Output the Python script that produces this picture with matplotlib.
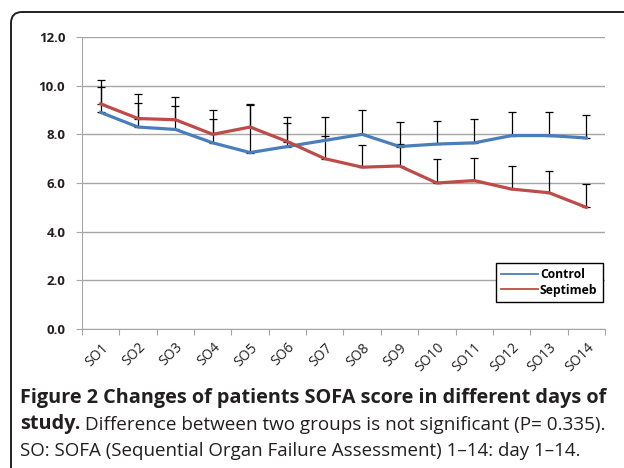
import numpy as np
import matplotlib
matplotlib.use("Agg")
import matplotlib.pyplot as plt
from matplotlib.patches import FancyBboxPatch

# SOFA score per study day
days = ["SO1", "SO2", "SO3", "SO4", "SO5", "SO6", "SO7",
        "SO8", "SO9", "SO10", "SO11", "SO12", "SO13", "SO14"]
control = [8.9, 8.3, 8.2, 7.65, 7.25, 7.5, 7.75, 8.0, 7.5, 7.6, 7.65, 7.95, 7.95, 7.85]
control_sd = [1.05, 1.0, 0.95, 1.0, 2.0, 1.2, 0.95, 1.0, 1.0, 0.95, 1.0, 0.95, 0.95, 0.95]
septimeb = [9.25, 8.65, 8.6, 8.0, 8.3, 7.7, 7.0, 6.65, 6.7, 6.0, 6.1, 5.75, 5.6, 5.0]
septimeb_sd = [1.0, 1.02, 0.95, 1.0, 0.9, 0.75, 0.93, 0.93, 0.92, 0.97, 0.93, 0.93, 0.9, 0.97]

blue = "#4a7ebb"
red = "#be4b48"
grid = "#a6a6a6"
txt = "#231f20"

plt.rcParams["font.family"] = ["Open Sans", "DejaVu Sans"]

fig = plt.figure(figsize=(6.24, 4.68), dpi=100)

# rounded frame around the figure (pixel coordinates)
bg = fig.add_axes([0, 0, 1, 1])
bg.set_xlim(0, 624)
bg.set_ylim(468, 0)
bg.axis("off")
frame = FancyBboxPatch((11, 12), 700, 520, boxstyle="round,pad=0,rounding_size=11",
                       fc="none", ec="#222222", lw=1.4, clip_on=False)
bg.add_patch(frame)

ax = fig.add_axes([82 / 624, 1 - 329 / 468, 523 / 624, 292 / 468])
x = np.arange(1, len(days) + 1)

ax.errorbar(x, control, yerr=[np.zeros(len(x)), control_sd], fmt="none",
            ecolor="black", elinewidth=0.9, capsize=3, capthick=0.9, zorder=2)
ax.errorbar(x, septimeb, yerr=[np.zeros(len(x)), septimeb_sd], fmt="none",
            ecolor="black", elinewidth=0.9, capsize=3, capthick=0.9, zorder=2)
ax.plot(x, control, color=blue, lw=2.3, label="Control", zorder=3)
ax.plot(x, septimeb, color=red, lw=2.3, label="Septimeb", zorder=3)

ax.set_xlim(0.5, len(days) + 0.5)
ax.set_ylim(0, 12)
ax.set_yticks(np.arange(0, 12.1, 2))
ax.set_yticklabels([f"{v:.1f}" for v in np.arange(0, 12.1, 2)],
                   fontweight="bold", fontsize=9.5, color=txt)
ax.yaxis.grid(True, color=grid, lw=1)
ax.set_axisbelow(True)

ax.set_xticks(np.arange(0.5, len(days) + 1, 1))
ax.set_xticklabels([])
ax.set_xticks(x, minor=True)
ax.set_xticklabels(days, minor=True, rotation=45, ha="right",
                   rotation_mode="anchor", fontsize=10, fontweight="medium",
                   color=txt)
ax.tick_params(axis="x", which="minor", length=0, pad=8)
ax.tick_params(axis="x", which="major", length=4, color=grid)
ax.tick_params(axis="y", length=4, color=grid, pad=8)

for s in ["top", "right"]:
    ax.spines[s].set_visible(False)
for s in ["left", "bottom"]:
    ax.spines[s].set_color(grid)

leg = ax.legend(loc="lower right", bbox_to_anchor=(0.996, 0.092), borderaxespad=0,
                fancybox=False, edgecolor="black", framealpha=1, handlelength=3.0,
                prop={"weight": "bold", "size": 8.7}, borderpad=0.45,
                labelspacing=0.2, handletextpad=0.2)
leg.get_frame().set_linewidth(1.0)
for h in leg.legend_handles:
    h.set_linewidth(1.3)

# caption
t1 = fig.text(20 / 624, 1 - 398 / 468,
              "Figure 2 Changes of patients SOFA score in different days of",
              fontsize=14.3, fontweight="bold", color=txt, va="center")
t2 = fig.text(20 / 624, 1 - 424 / 468, "study.", fontsize=14.3,
              fontweight="bold", color=txt, va="center")
bg.annotate(" Difference between two groups is not significant (P= 0.335).",
            xy=(1, 0), xycoords=t2, va="bottom", fontsize=13.6, color=txt)
fig.text(20 / 624, 1 - 451 / 468,
         "SO: SOFA (Sequential Organ Failure Assessment) 1\u201314: day 1\u201314.",
         fontsize=13.5, color=txt, va="center")

fig.savefig("out.png", dpi=100)
